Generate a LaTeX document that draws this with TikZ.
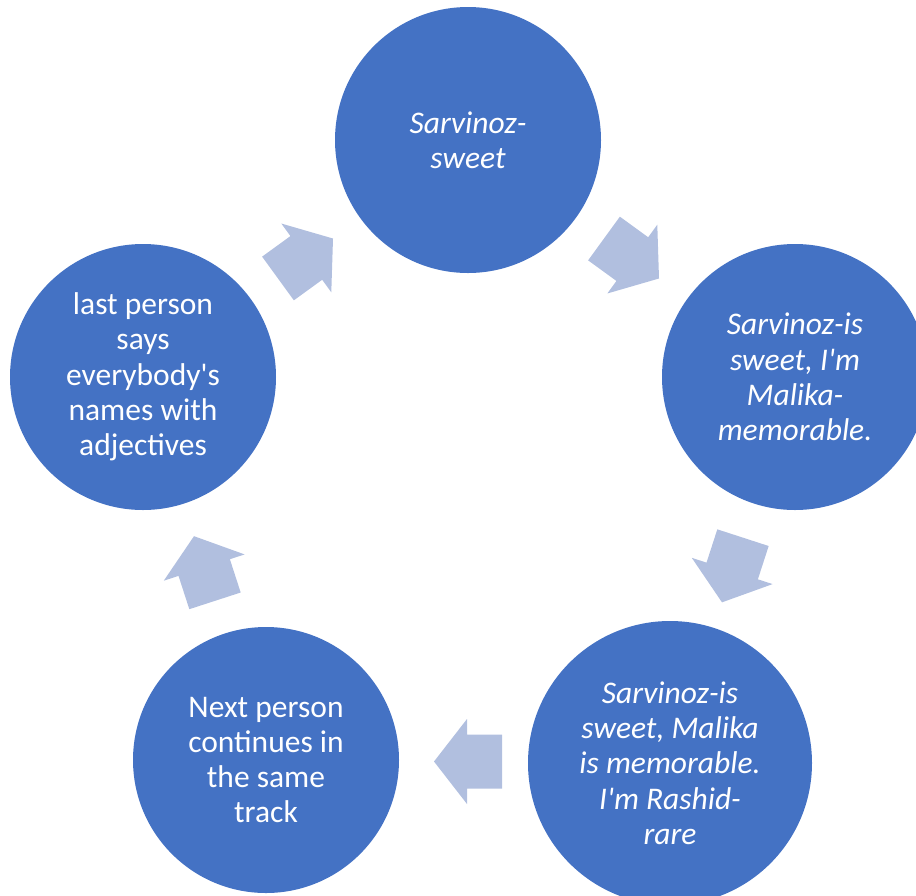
\documentclass[tikz,border=0pt]{standalone}
\usepackage{fontspec}
\setmainfont{Carlito}
\usetikzlibrary{calc}

\definecolor{circleblue}{HTML}{4472C4}
\definecolor{arrowblue}{HTML}{B1BFDF}

\tikzset{
  stage/.style={circle, fill=circleblue, draw=none, inner sep=0pt,
    minimum size=266pt, text=white, align=center,
    font=\fontsize{31.5}{35.3}\selectfont},
  stagebig/.style={stage, minimum size=284pt},
  stageit/.style={font=\fontsize{31.5}{35.3}\selectfont\itshape},
  cyclearrow/.pic={
    \fill[arrowblue] (34,0) -- (1,42.5) -- (1,27) -- (-34,27) -- (-34,-27)
      -- (1,-27) -- (1,-42.5) -- cycle;
  }
}

\begin{document}
\begin{tikzpicture}[x=1pt, y=-1pt]
  \useasboundingbox (0,0) rectangle (916,895);
  \clip (0,0) rectangle (916,895);

  % the five stages of the name game
  \node[stage, stageit] (s1) at (468,140) {Sarvinoz-\\sweet};
  \node[stage, stageit] (s2) at (795,377)
    {Sarvinoz-is\\sweet, I\textquotesingle m\\Malika-\\memorable.};
  \node[stagebig, stageit] (s3) at (670,763)
    {Sarvinoz-is\\sweet, Malika\\is memorable.\\I\textquotesingle m Rashid-\\rare};
  \node[stage] (s4) at (266,760) {Next person\\continues in\\the same\\track};
  \node[stage] (s5) at (143,377)
    {last person\\says\\everybody\textquotesingle s\\names with\\adjectives};

  % block arrows half way between neighbouring stages
  \pic[rotate=-36]  at ($(s1)!0.5!(s2)$) {cyclearrow};
  \pic[rotate=-108] at ($(s2)!0.5!(s3)$) {cyclearrow};
  \pic[rotate=180]  at ($(s3)!0.5!(s4)$) {cyclearrow};
  \pic[rotate=108]  at ($(s4)!0.5!(s5)$) {cyclearrow};
  \pic[rotate=36]   at ($(s5)!0.5!(s1)$) {cyclearrow};
\end{tikzpicture}
\end{document}
